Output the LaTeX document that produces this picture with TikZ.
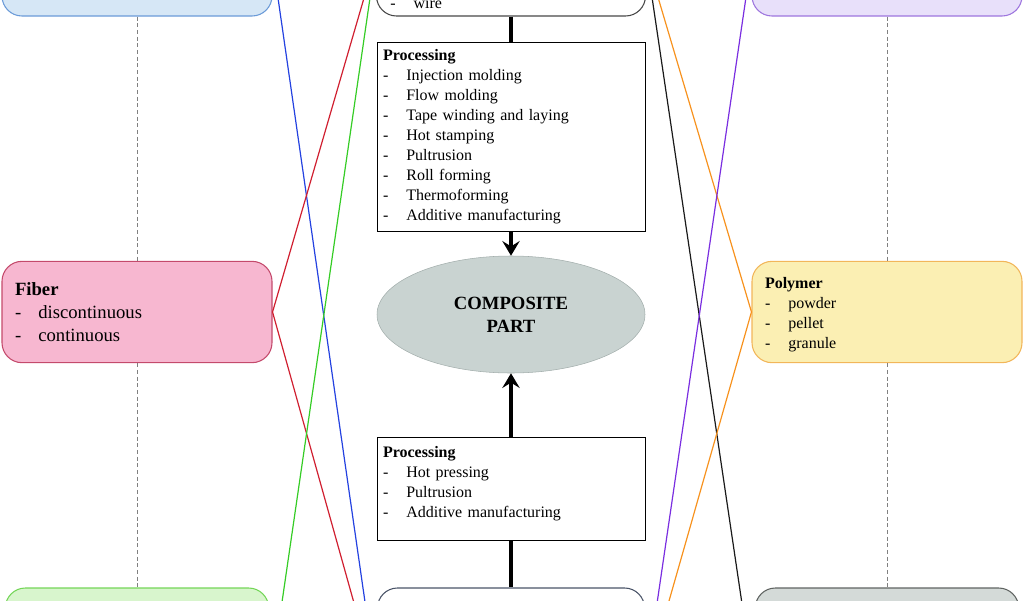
\documentclass[tikz,border=0pt]{standalone}
\usepackage{fontspec}
\setmainfont{Liberation Serif}
\definecolor{blueline}{HTML}{6B9BD8}
\definecolor{bluefill}{HTML}{D6E7F6}
\definecolor{pinkline}{HTML}{C44A6C}
\definecolor{pinkfill}{HTML}{F7B7D0}
\definecolor{greenline}{HTML}{74D658}
\definecolor{greenfill}{HTML}{D8F5CD}
\definecolor{violetline}{HTML}{9E76DE}
\definecolor{violetfill}{HTML}{E8E0FA}
\definecolor{yellowline}{HTML}{F2B65A}
\definecolor{yellowfill}{HTML}{FBEFB3}
\definecolor{grayline}{HTML}{606462}
\definecolor{grayfill}{HTML}{D4DAD8}
\definecolor{partfill}{HTML}{C9D3D1}
\definecolor{partline}{HTML}{A3AEAC}
\definecolor{slateline}{HTML}{4A5468}
\definecolor{lnblue}{HTML}{2442E0}
\definecolor{lnred}{HTML}{D01F30}
\definecolor{lngreen}{HTML}{35CC25}
\definecolor{lnorange}{HTML}{F7921E}
\definecolor{lnviolet}{HTML}{7A2EE0}
\definecolor{lnblack}{HTML}{1A1A1A}
\usepackage{tikz}
\usetikzlibrary{shapes.geometric, arrows.meta}
\newcommand{\itm}[1]{\makebox[17.5pt][l]{-}#1}
\tikzset{
  mat/.style={
    draw=#1line, fill=#1fill, rounded corners=15pt, line width=0.8pt,
    align=left, text width=183pt, inner xsep=9.75pt,
    font=\fontsize{12}{15}\selectfont
  },
  form/.style={draw=#1, fill=white, rounded corners=15pt, line width=0.8pt},
  proc/.style={
    draw=black, fill=white, line width=0.7pt, text width=192pt,
    inner xsep=4.5pt, align=left, font=\fontsize{12}{15}\selectfont
  },
  part/.style={
    ellipse, draw=partline, fill=partfill, minimum width=201pt,
    minimum height=87.75pt, align=center,
    font=\fontsize{14}{17}\selectfont\bfseries
  },
  link/.style={line width=0.9pt, draw=#1},
  flow/.style={line width=3pt},
  flowarr/.style={line width=3pt, -{Stealth[length=11pt,width=13pt,inset=4pt]}},
  guide/.style={dashed, dash pattern=on 3pt off 2pt, draw=gray, line width=0.6pt},
}
\begin{document}
\begin{tikzpicture}[x=0.75pt, y=-0.75pt]
    \useasboundingbox (0,0) rectangle (1024,600);
    \clip (0,0) rectangle (1024,600);

    \node[mat=blue, minimum height=84pt] (tl) at (137,-40) {};
    \node[mat=pink, minimum height=76pt, font=\fontsize{14}{17}\selectfont]
      (fiber) at (137,312) {\textbf{Fiber}\\ \itm{discontinuous}\\ \itm{continuous}};
    \node[mat=green, text width=178pt, minimum height=153pt] (bl) at (137,690) {};

    \node[mat=violet, minimum height=84pt] (tr) at (887,-40) {};
    \node[mat=yellow, minimum height=76pt]
      (polymer) at (887,312) {\rule{0pt}{13pt}\textbf{Polymer}\\ \itm{powder}\\ \itm{pellet}\\ \itm{granule}};
    \node[mat=gray, text width=178pt, minimum height=153pt] (br) at (887,690) {};

    \node[form=lnblack!80, minimum width=201.75pt, minimum height=88.5pt] (tc) at (511,-43) {};
    \node[anchor=base west, inner sep=0pt, font=\fontsize{12}{15}\selectfont]
      (wire) at (390,8) {\itm{wire}};

    \node[proc, minimum height=141.75pt] (proc1) at (511,136.5)
      {\textbf{Processing}\\ \itm{Injection molding}\\ \itm{Flow molding}\\
       \itm{Tape winding and laying}\\ \itm{Hot stamping}\\ \itm{Pultrusion}\\
       \itm{Roll forming}\\ \itm{Thermoforming}\\ \itm{Additive manufacturing}};

    \node[part] (part) at (511,314.5) {COMPOSITE\\PART};

    \node[proc, minimum height=77.25pt] (proc2) at (511,488.5)
      {\textbf{Processing}\\ \itm{Hot pressing}\\ \itm{Pultrusion}\\
       \itm{Additive manufacturing}\rule[-10pt]{0pt}{10pt}};

    \node[form=slateline, minimum width=200.25pt, minimum height=145.5pt] (bc) at (511,685) {};

    \draw[guide] (tl) -- (fiber);
    \draw[guide] (fiber) -- (bl);
    \draw[guide] (tr) -- (polymer);
    \draw[guide] (polymer) -- (br);

    \draw[flow] (tc) -- (proc1);
    \draw[flowarr] (proc1) -- (part);
    \draw[flowarr] (proc2) -- (part);
    \draw[flow] (proc2) -- (bc);

    \draw[link=lnblue] (tl.east) -- (bc.west);
    \draw[link=lnred] (fiber.east) -- (tc.west);
    \draw[link=lnred] (fiber.east) -- (bc.west);
    \draw[link=lngreen] (bl.east) -- (tc.west);
    \draw[link=lnblack] (tc.east) -- (br.west);
    \draw[link=lnorange] (polymer.west) -- (tc.east);
    \draw[link=lnorange] (polymer.west) -- (bc.east);
    \draw[link=lnviolet] (tr.west) -- (bc.east);
\end{tikzpicture}
\end{document}
